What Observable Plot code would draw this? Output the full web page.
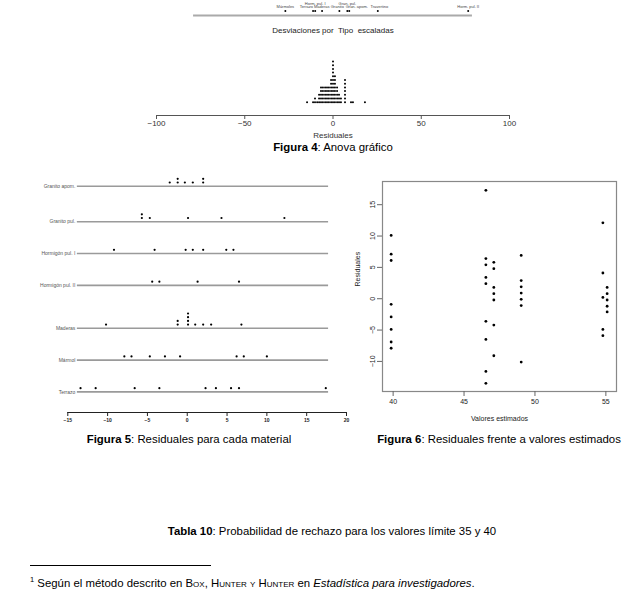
<!DOCTYPE html>
<html><head><meta charset="utf-8">
<script src="https://cdn.jsdelivr.net/npm/d3@7"></script>
<script src="https://cdn.jsdelivr.net/npm/@observablehq/plot@0.6"></script>
<style>
html,body{margin:0;padding:0;background:#fff;}
body{width:630px;height:593px;position:relative;overflow:hidden;font-family:"Liberation Sans",Arial,sans-serif;color:#000;}
.abs{position:absolute;}
.cap{position:absolute;font-size:11.4px;line-height:14px;white-space:nowrap;transform:translateX(-50%);}
.cap b{font-weight:bold;}
.sc{font-variant:small-caps;}
svg{overflow:visible;}
</style></head><body>
<div id="strip" class="abs" style="left:0;top:0"></div>
<div class="cap" style="left:333px;top:26px;font-size:8px;line-height:10px;color:#222;">Desviaciones por&nbsp; Tipo&nbsp; escaladas</div>
<div id="fig4" class="abs" style="left:0;top:40px"></div>
<div class="cap" style="left:333px;top:140px;"><b>Figura 4</b>: Anova gráfico</div>
<div id="fig5" class="abs" style="left:20px;top:170px"></div>
<div id="fig6" class="abs" style="left:330px;top:175px"></div>
<div class="cap" style="left:189px;top:432px;"><b>Figura 5</b>: Residuales para cada material</div>
<div class="cap" style="left:499px;top:432px;"><b>Figura 6</b>: Residuales frente a valores estimados</div>
<div class="cap" style="left:332px;top:524px;"><b>Tabla 10</b>: Probabilidad de rechazo para los valores límite 35 y 40</div>
<div class="abs" style="left:30px;top:565px;width:181px;border-top:1px solid #000;"></div>
<div class="abs" style="left:30px;top:573px;font-size:11.4px;line-height:14px;white-space:nowrap;"><sup style="font-size:7.5px;">1</sup> Según el método descrito en B<span class="sc">ox</span>, H<span class="sc">unter y</span> H<span class="sc">unter</span> en <i>Estadística para investigadores</i>.</div>
<script>
// ---------- Figure 4: scaled deviations by type ----------
const tipos = ["Mármoles","Terrazo","Horm. pul. I","Maderas","Granito","Gran. pul.","Gran. apom.","Travertino","Horm. pul. II"];
const desviaciones = [-27.0, -11.3, -10.1, -6.2, 3.6, 8.1, 9.2, 25.4, 76.6];
const tiposElevados = ["Horm. pul. I", "Gran. pul."];
const desvLinea = [-79, 79];

// ---------- Figure 4: residual dot plot (column value, number of stacked dots) ----------
const fig4Residuales = [-14.7, -11.3, -10.2, -9.0, -7.9, -6.8, -5.7, -4.5, -3.4, -2.3, -1.1, 0, 1.1, 2.3, 3.4, 4.5, 6.8, 10.2, 11.3, 18.1];
const fig4Conteos    = [1, 1, 2, 1, 3, 5, 5, 5, 5, 5, 7, 12, 8, 5, 3, 2, 7, 1, 1, 1];
const fig4Ticks = [-100, -50, 0, 50, 100];

// ---------- Figure 5: residuals for each material ----------
const materiales = ["Granito apom.","Granito pul.","Hormigón pul. I","Hormigón pul. II","Maderas","Mármol","Terrazo"];
const resGranitoApom = [-2.2, -1.2, -1.2, -0.3, 0.7, 2.0, 2.0];
const resGranitoPul  = [-5.7, -5.7, -4.7, 0.1, 4.3, 12.2];
const resHormigonI   = [-9.2, -4.1, -0.2, 0.7, 2.0, 4.9, 5.8];
const resHormigonII  = [-4.4, -3.5, 1.3, 6.5];
const resMaderas     = [-10.2, -1.2, -1.2, 0.1, 0.1, 0.1, 0.1, 1.0, 2.0, 3.0, 6.8];
const resMarmol      = [-7.9, -7.0, -4.7, -2.8, -0.9, 6.2, 7.1, 10.0];
const resTerrazo     = [-13.4, -11.5, -6.6, -3.5, 2.3, 3.6, 5.5, 6.5, 17.4];
const fig5Ticks = [-15, -10, -5, 0, 5, 10, 15, 20];

// ---------- Figure 6: residuals vs fitted ----------
const estimados = [39.86, 46.54, 47.10, 49.03, 54.79, 55.09];
const res6a = [10.1, 7.1, 6.1, -0.9, -2.9, -4.9, -6.9, -7.9];
const res6b = [17.3, 6.4, 5.4, 3.4, 2.4, -3.6, -6.5, -11.6, -13.5];
const res6c = [5.8, 4.8, 1.8, 0.8, -0.2, -4.2, -9.1];
const res6d = [6.9, 2.9, 1.9, 0.9, -0.1, -1.1, -10.1];
const res6e = [12.1, 4.1, 0.2, -4.9, -5.9];
const res6f = [1.8, 0.8, -0.2, -1.2, -2.1];
const fig6XTicks = [40, 45, 50, 55];
const fig6YTicks = [-10, -5, 0, 5, 10, 15];

const FONT = "'Liberation Sans', Arial, sans-serif";
const fmtMinus = d => d < 0 ? "\u2212" + Math.abs(d) : String(d);

// ===== top strip =====
const LABEL_FS = 4;
const PX_PER_UNIT = 353 / 200;
// simple label repel so neighbouring labels on the same row do not overlap
function repel(items) {
  const arr = items.map(d => ({...d, w: d.tipo.length * LABEL_FS * 0.5, p: d.v * PX_PER_UNIT}))
                   .sort((a, b) => a.p - b.p);
  for (let it = 0; it < 60; it++) {
    for (let i = 1; i < arr.length; i++) {
      const a = arr[i - 1], b = arr[i];
      const need = (a.w + b.w) / 2 + 1.5, gap = b.p - a.p;
      if (gap < need) { const s = (need - gap) / 2; a.p -= s; b.p += s; }
    }
  }
  return arr.map(d => ({...d, lx: d.p / PX_PER_UNIT}));
}
const topData = tipos.map((t, i) => ({tipo: t, v: desviaciones[i], up: tiposElevados.includes(t)}));
const lowLabels = repel(topData.filter(d => !d.up));
const upLabels = repel(topData.filter(d => d.up));
document.getElementById("strip").append(Plot.plot({
  width: 630, height: 24, marginLeft: 156, marginRight: 121, marginTop: 0, marginBottom: 0,
  style: {fontFamily: FONT, background: "transparent"},
  x: {domain: [-100, 100], axis: null},
  y: {domain: [0, 1], range: [15, 5], axis: null},
  marks: [
    Plot.ruleY([0], {x1: desvLinea[0], x2: desvLinea[1], stroke: "#aaa", strokeWidth: 2}),
    Plot.dot(topData, {x: "v", y: 0, dy: -4.5, r: 1, fill: "#000", stroke: "none"}),
    Plot.text(lowLabels, {x: "lx", y: 0, text: "tipo", dy: -8.5, fontSize: LABEL_FS, fill: "#444"}),
    Plot.text(upLabels, {x: "lx", y: 0, text: "tipo", dy: -12, fontSize: LABEL_FS, fill: "#444"})
  ]
}));

// ===== figure 4 dot plot =====
const dots4 = fig4Residuales.flatMap((v, i) => d3.range(fig4Conteos[i]).map(k => ({v, k})));
document.getElementById("fig4").append(Plot.plot({
  width: 630, height: 105, marginLeft: 156, marginRight: 121, marginTop: 0, marginBottom: 30,
  style: {fontFamily: FONT, fontSize: "8px", color: "#333", background: "transparent"},
  x: {domain: [-100, 100], axis: null},
  y: {domain: [0, 11], range: [61.7, 61.7 - 11 * 3.7], axis: null},
  marks: [
    Plot.dot(dots4, {x: "v", y: "k", r: 1, fill: "#000", stroke: "none"}),
    Plot.frame({anchor: "bottom", stroke: "#555"}),
    Plot.axisX({ticks: fig4Ticks, tickSize: 4, tickPadding: 1, tickFormat: fmtMinus, label: null, stroke: "#555"}),
    Plot.text(["Residuales"], {text: d => d, frameAnchor: "bottom", dy: 22, fill: "#333"})
  ]
}));

// ===== figure 5 =====
const grupos = [resGranitoApom, resGranitoPul, resHormigonI, resHormigonII, resMaderas, resMarmol, resTerrazo];
const GAP = 7.6, UNIT = 3.7;
let acc = 0;
const filas = materiales.map((m, i) => {
  const vals = grupos[i];
  const maxStack = d3.max(d3.rollups(vals, v => v.length, d => d), d => d[1]);
  if (i > 0) acc += GAP + maxStack;
  return {material: m, yl: acc};
});
const dots5 = grupos.flatMap((vals, i) => {
  const seen = new Map();
  return vals.map(v => {
    const k = seen.get(v) || 0; seen.set(v, k + 1);
    return {material: materiales[i], v, y: filas[i].yl - 1 - k};
  });
});
const todas5 = grupos.flat();
const ext5 = d3.extent(todas5);
const x1Linea = ext5[0] - 0.4, x2Linea = ext5[1] + 0.35;
document.getElementById("fig5").append(Plot.plot({
  width: 340, height: 262, marginLeft: 47.3, marginRight: 14, marginTop: 0, marginBottom: 20,
  style: {fontFamily: FONT, fontSize: "5px", color: "#222", background: "transparent"},
  x: {domain: [-15, 20], axis: null},
  y: {domain: [0, acc], range: [15.7, 15.7 + acc * UNIT], axis: null},
  marks: [
    Plot.ruleY(filas, {y: "yl", x1: x1Linea, x2: x2Linea, stroke: "#9a9a9a", strokeWidth: 1.6}),
    Plot.text(filas, {y: "yl", x: x1Linea, text: "material", textAnchor: "end", dx: -2, fontSize: 5, fill: "#555"}),
    Plot.dot(dots5, {x: "v", y: "y", r: 1.1, fill: "#000", stroke: "none"}),
    Plot.frame({anchor: "bottom", stroke: "#222", strokeWidth: 1}),
    Plot.axisX({ticks: fig5Ticks, tickSize: 4, tickPadding: 2, label: null, fontWeight: "bold", stroke: "#222"})
  ]
}));

// ===== figure 6 =====
const grupos6 = [res6a, res6b, res6c, res6d, res6e, res6f];
const dots6 = grupos6.flatMap((vals, i) => vals.map(r => ({est: estimados[i], r})));
document.getElementById("fig6").append(Plot.plot({
  width: 300, height: 255, marginLeft: 52, marginRight: 14, marginTop: 6, marginBottom: 39,
  style: {fontFamily: FONT, fontSize: "7px", color: "#222", background: "transparent"},
  x: {domain: [39.25, 55.75], axis: null},
  y: {domain: [-14.8, 18.7], axis: null},
  marks: [
    Plot.frame({stroke: "#888", strokeWidth: 1.2}),
    Plot.axisX({ticks: fig6XTicks, tickSize: 5, tickPadding: 3, label: null, stroke: "#666"}),
    Plot.axisY({ticks: fig6YTicks, tickSize: 5, tickPadding: 3, tickRotate: -90, tickFormat: fmtMinus, label: null, stroke: "#666"}),
    Plot.dot(dots6, {x: "est", y: "r", r: 1.4, fill: "#000", stroke: "none"}),
    Plot.text(["Valores estimados"], {text: d => d, frameAnchor: "bottom", dy: 29}),
    Plot.text(["Residuales"], {text: d => d, frameAnchor: "left", dx: -25, rotate: -90})
  ]
}));
</script>
</body></html>
